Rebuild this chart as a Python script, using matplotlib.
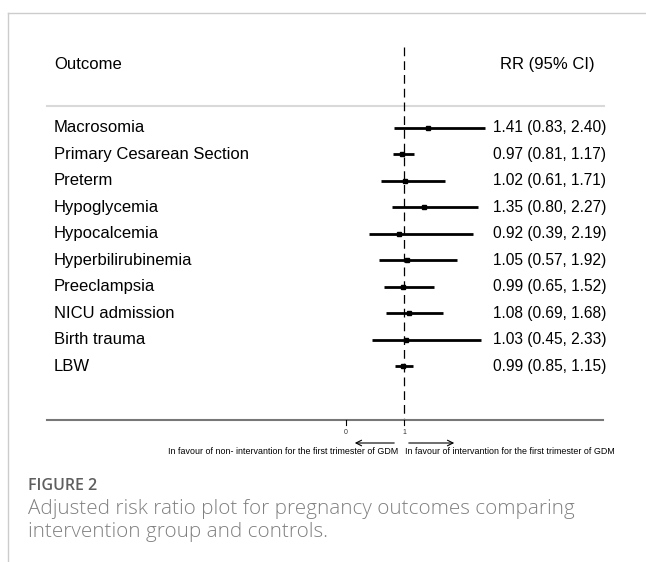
import matplotlib.pyplot as plt
from matplotlib.lines import Line2D

# forest plot data
outcomes = ["Macrosomia", "Primary Cesarean Section", "Preterm", "Hypoglycemia",
            "Hypocalcemia", "Hyperbilirubinemia", "Preeclampsia", "NICU admission",
            "Birth trauma", "LBW"]
rr    = [1.41, 0.97, 1.02, 1.35, 0.92, 1.05, 0.99, 1.08, 1.03, 0.99]
lower = [0.83, 0.81, 0.61, 0.80, 0.39, 0.57, 0.65, 0.69, 0.45, 0.85]
upper = [2.40, 1.17, 1.71, 2.27, 2.19, 1.92, 1.52, 1.68, 2.33, 1.15]
xticks = [0, 1]

W, H = 646, 562
fig = plt.figure(figsize=(W / 100, H / 100), dpi=100)
plt.rcParams['font.family'] = ['Liberation Sans', 'DejaVu Sans']

# page frame (light grey border of the figure box)
fig.add_artist(Line2D([8 / W, 1], [1 - 13 / H, 1 - 13 / H], color='#cccccc', lw=1))
fig.add_artist(Line2D([8 / W, 8 / W], [0, 1 - 13 / H], color='#cccccc', lw=1))

ax = fig.add_axes([0, 0, 1, 1])
ax.axis('off')
# pixel mapping: RR 0 -> x=346, RR 1 -> x=404 ; row 0 -> y=128, 26.5 px per row
px_unit, x0 = 58.0, 346.0
row_h, y0 = 26.5, 128.0
ax.set_xlim(-x0 / px_unit, (W - x0) / px_unit)
ax.set_ylim((H - y0) / row_h, -y0 / row_h)

def xr(px):
    return (px - x0) / px_unit

def yr(py):
    return (py - y0) / row_h

# header
ax.text(xr(54), yr(65), "Outcome", fontsize=12, va='center', ha='left')
ax.text(xr(500), yr(65), "RR (95% CI)", fontsize=12, va='center', ha='left')
ax.plot([xr(47), xr(604)], [yr(106), yr(106)], color='#d9d9d9', lw=1.5)

# null line
ax.plot([1, 1], [yr(47), yr(420)], color='black', lw=0.9, dashes=(7, 4))

for i, name in enumerate(outcomes):
    ax.text(xr(54), i, name, fontsize=12, va='center', ha='left')
    ax.plot([lower[i], upper[i]], [i, i], color='black', lw=2, solid_capstyle='butt')
    ax.plot(rr[i], i, marker='s', ms=2.5, color='black')
    ax.text(xr(493), i, f"{rr[i]:.2f} ({lower[i]:.2f}, {upper[i]:.2f})",
            fontsize=11.2, va='center', ha='left')

# x axis
ax.plot([xr(47), xr(603)], [yr(420), yr(420)], color='#777777', lw=1.5)
for t in xticks:
    ax.plot([t, t], [yr(420), yr(425)], color='black', lw=0.8)
    ax.text(t, yr(433), str(t), fontsize=5, ha='center', va='center', color='#333333')

# direction arrows
ax.annotate("", xy=(xr(352), yr(443)), xytext=(xr(397), yr(443)),
            arrowprops=dict(arrowstyle='->', lw=0.8, color='black'))
ax.annotate("", xy=(xr(457), yr(443)), xytext=(xr(406), yr(443)),
            arrowprops=dict(arrowstyle='->', lw=0.8, color='black'))
ax.text(xr(398), yr(452), "In favour of non- intervantion for the first trimester of GDM",
        fontsize=6.4, ha='right', va='center')
ax.text(xr(405), yr(452), "In favour of intervantion for the first trimester of GDM",
        fontsize=6.4, ha='left', va='center')

# caption
fig.text(28 / W, 1 - 486 / H, "FIGURE 2", fontsize=11.5, color='#5f5f5f',
         family='Open Sans', fontweight='semibold', va='center', ha='left')
fig.text(28 / W, 1 - 509 / H, "Adjusted risk ratio plot for pregnancy outcomes comparing",
         fontsize=14.9, color='#808080', family='Open Sans', fontweight='light',
         va='center', ha='left')
fig.text(28 / W, 1 - 532 / H, "intervention group and controls.",
         fontsize=14.9, color='#808080', family='Open Sans', fontweight='light',
         va='center', ha='left')

fig.savefig("out.png", dpi=100)
